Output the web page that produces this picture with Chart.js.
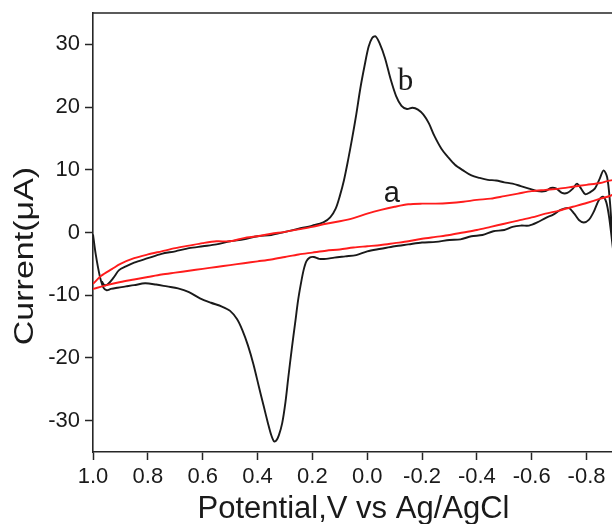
<!DOCTYPE html>
<html>
<head>
<meta charset="utf-8">
<script src="https://cdn.jsdelivr.net/npm/chart.js@4.4.1/dist/chart.umd.min.js"></script>
<style>
  html, body { margin: 0; padding: 0; background: #fff; overflow: hidden; }
  #wrap { width: 616px; height: 524px; }
</style>
</head>
<body>
<div id="wrap"><canvas id="cv" width="616" height="524"></canvas></div>
<script>
// curve b (black): one full sweep, cathodic branch first, then the return branch
const potentialB = [
  1.000, 0.990, 0.975, 0.962, 0.950, 0.935, 0.910, 0.880, 0.850, 0.810,
  0.770, 0.730, 0.690, 0.650, 0.610, 0.570, 0.530, 0.500, 0.475, 0.455,
  0.435, 0.415, 0.395, 0.378, 0.362, 0.350, 0.340, 0.332, 0.322, 0.310,
  0.298, 0.288, 0.275, 0.263, 0.252, 0.242, 0.232, 0.222, 0.210, 0.195,
  0.175, 0.150, 0.120, 0.080, 0.040, 0.000, -0.050, -0.100, -0.150, -0.200,
  -0.250, -0.300, -0.340, -0.380, -0.420, -0.460, -0.500, -0.530, -0.560, -0.590,
  -0.620, -0.650, -0.680, -0.705, -0.735, -0.755, -0.772, -0.790, -0.808, -0.825,
  -0.845, -0.860, -0.872, -0.882, -0.892, -0.900,
  -0.893, -0.885, -0.875, -0.862, -0.848, -0.830, -0.812, -0.795, -0.780, -0.765,
  -0.750, -0.730, -0.710, -0.690, -0.670, -0.650, -0.620, -0.590, -0.560, -0.530,
  -0.500, -0.470, -0.440, -0.410, -0.380, -0.350, -0.320, -0.295, -0.270, -0.245,
  -0.225, -0.205, -0.185, -0.165, -0.145, -0.125, -0.105, -0.085, -0.065, -0.045,
  -0.030, -0.018, -0.005, 0.010, 0.025, 0.040, 0.055, 0.070, 0.085, 0.100,
  0.115, 0.135, 0.160, 0.200, 0.250, 0.300, 0.350, 0.400, 0.450, 0.500,
  0.550, 0.600, 0.650, 0.700, 0.750, 0.800, 0.850, 0.880, 0.905, 0.925,
  0.945, 0.958, 0.968
];
const currentB = [
  -0.3, -3.5, -7.0, -8.8, -9.2, -9.0, -8.8, -8.6, -8.4, -8.1,
  -8.3, -8.6, -8.9, -9.5, -10.5, -11.2, -11.8, -12.5, -13.8, -15.6,
  -18.0, -21.0, -24.6, -27.6, -30.4, -32.3, -33.3, -33.2, -32.3, -30.4,
  -27.0, -23.2, -18.5, -14.5, -10.8, -8.2, -6.0, -4.6, -4.0, -3.9,
  -4.2, -4.2, -4.0, -3.8, -3.6, -3.0, -2.6, -2.2, -1.9, -1.6,
  -1.5, -1.2, -1.1, -0.6, -0.4, 0.2, 0.4, 0.9, 1.1, 1.1,
  1.6, 2.3, 2.9, 3.6, 3.9, 3.0, 2.0, 1.6, 2.0, 3.2,
  5.2, 5.7, 4.8, 2.5, -1.0, -4.0,
  0.0, 5.0, 8.8, 9.9, 8.6, 7.0, 6.4, 6.1, 7.0, 7.8,
  7.0, 6.3, 6.3, 7.0, 7.1, 6.6, 6.6, 7.0, 7.4, 7.8,
  8.0, 8.3, 8.4, 8.7, 9.1, 9.9, 10.8, 12.0, 13.4, 15.4,
  17.4, 18.8, 19.6, 19.9, 19.7, 20.2, 21.8, 24.5, 27.8, 30.2,
  31.3, 31.0, 29.6, 26.5, 23.0, 18.8, 15.0, 11.5, 8.3, 5.8,
  3.8, 2.4, 1.6, 1.1, 0.6, 0.1, -0.4, -0.6, -1.1, -1.4,
  -1.9, -2.2, -2.5, -3.0, -3.4, -4.1, -4.8, -5.4, -6.0, -7.2,
  -8.2, -8.4, -7.8
];

// curve a (red): forward branch then return branch
const potentialA = [
  1.000, 0.970, 0.930, 0.900, 0.850, 0.800, 0.750, 0.700, 0.650, 0.600,
  0.550, 0.500, 0.450, 0.400, 0.350, 0.300, 0.250, 0.200, 0.150, 0.100,
  0.050, 0.000, -0.050, -0.100, -0.150, -0.200, -0.250, -0.300, -0.350, -0.400,
  -0.450, -0.500, -0.550, -0.600, -0.650, -0.700, -0.750, -0.800, -0.850, -0.900,
  -0.900, -0.850, -0.800, -0.750, -0.700, -0.650, -0.600, -0.550, -0.500, -0.450,
  -0.400, -0.350, -0.300, -0.250, -0.200, -0.150, -0.100, -0.050, 0.000, 0.050,
  0.100, 0.150, 0.200, 0.250, 0.300, 0.350, 0.400, 0.450, 0.500, 0.550,
  0.600, 0.650, 0.700, 0.750, 0.800, 0.850, 0.900, 0.950, 1.000
];
const currentA = [
  -8.2, -6.9, -5.8, -5.0, -4.1, -3.5, -3.0, -2.5, -2.1, -1.7,
  -1.4, -1.4, -0.9, -0.6, -0.2, 0.1, 0.5, 0.9, 1.4, 1.8,
  2.3, 3.0, 3.6, 4.1, 4.5, 4.6, 4.6, 4.7, 4.9, 5.2,
  5.4, 5.8, 6.2, 6.6, 6.8, 7.0, 7.3, 7.6, 7.9, 8.3,
  6.2, 5.4, 4.7, 4.1, 3.5, 3.0, 2.4, 1.9, 1.4, 0.9,
  0.4, 0.0, -0.4, -0.7, -1.0, -1.4, -1.7, -2.0, -2.2, -2.4,
  -2.7, -2.9, -3.2, -3.5, -3.9, -4.3, -4.6, -4.9, -5.2, -5.5,
  -5.8, -6.1, -6.4, -6.7, -7.1, -7.5, -7.9, -8.4, -9.0
];

const xTicks = [1.0, 0.8, 0.6, 0.4, 0.2, 0.0, -0.2, -0.4, -0.6, -0.8];
const yTicks = [-30, -20, -10, 0, 10, 20, 30];

// curve tags, anchored at their baseline in data units
const tagText = ['a', 'b'];
const tagV = [-0.09, -0.14];
const tagI = [4.8, 22.7];
const tagFont = ['29px "Liberation Sans", Arial, sans-serif', '31px "Liberation Serif", "Times New Roman", serif'];

const toPoints = (vs, is) => vs.map((v, k) => ({ x: v, y: is[k] }));

const INK = '#262626';
const SANS = '"Liberation Sans", Arial, sans-serif';

const framePlugin = {
  id: 'frame',
  afterDraw(chart) {
    const { ctx, chartArea: a, scales } = chart;
    ctx.save();
    ctx.strokeStyle = INK;
    ctx.lineWidth = 1.6;
    ctx.beginPath();
    ctx.moveTo(a.left, a.top);
    ctx.lineTo(a.right, a.top);
    ctx.lineTo(a.right, a.bottom);
    ctx.stroke();

    ctx.fillStyle = '#1a1a1a';
    ctx.textAlign = 'center';
    ctx.textBaseline = 'alphabetic';
    tagText.forEach((t, k) => {
      ctx.font = tagFont[k];
      ctx.fillText(t, scales.x.getPixelForValue(tagV[k]), scales.y.getPixelForValue(tagI[k]));
    });

    // y axis title, a little wider along its run
    ctx.translate(26, 256);
    ctx.rotate(-Math.PI / 2);
    ctx.scale(1.26, 1);
    ctx.font = '27px ' + SANS;
    ctx.textBaseline = 'middle';
    ctx.fillText('Current(\u03bcA)', 0, 0);
    ctx.restore();
  }
};

new Chart(document.getElementById('cv'), {
  type: 'scatter',
  data: {
    datasets: [
      {
        label: 'a',
        data: toPoints(potentialA, currentA),
        showLine: true,
        borderColor: '#ff1c1c',
        borderWidth: 1.9,
        pointRadius: 0,
        tension: 0.3,
        order: 0
      },
      {
        label: 'b',
        data: toPoints(potentialB, currentB),
        showLine: true,
        borderColor: '#1a1a1a',
        borderWidth: 1.9,
        pointRadius: 0,
        tension: 0.3,
        order: 1
      }
    ]
  },
  options: {
    responsive: false,
    animation: false,
    devicePixelRatio: 1,
    layout: { padding: { top: 13, right: 2, left: 0, bottom: 0 } },
    plugins: { legend: { display: false }, tooltip: { enabled: false } },
    scales: {
      x: {
        type: 'linear',
        reverse: true,
        min: -0.9,
        max: 1.0,
        afterBuildTicks: s => { s.ticks = xTicks.map(v => ({ value: v })); },
        afterFit: s => { s.height = 72; s.paddingLeft = 0; s.paddingRight = 0; },
        border: { display: true, color: INK, width: 1.6 },
        grid: { drawOnChartArea: false, drawTicks: true, tickLength: 8, tickWidth: 1.5, tickColor: INK },
        ticks: {
          padding: 4,
          color: '#1a1a1a',
          font: { family: SANS, size: 22 },
          maxRotation: 0,
          callback: v => v.toFixed(1)
        },
        title: {
          display: true,
          text: 'Potential,V vs Ag/AgCl',
          color: '#1a1a1a',
          font: { family: SANS, size: 31, lineHeight: 0.92 },
          padding: { top: 0, bottom: 0 }
        }
      },
      y: {
        type: 'linear',
        min: -35,
        max: 35,
        afterBuildTicks: s => { s.ticks = yTicks.map(v => ({ value: v })); },
        afterFit: s => { s.width = 93; s.paddingTop = 0; s.paddingBottom = 0; },
        border: { display: true, color: INK, width: 1.6 },
        grid: { drawOnChartArea: false, drawTicks: true, tickLength: 8, tickWidth: 1.5, tickColor: INK },
        ticks: {
          padding: 5,
          color: '#1a1a1a',
          font: { family: SANS, size: 22 },
          callback: v => String(v)
        }
      }
    }
  },
  plugins: [framePlugin]
});
</script>
</body>
</html>
